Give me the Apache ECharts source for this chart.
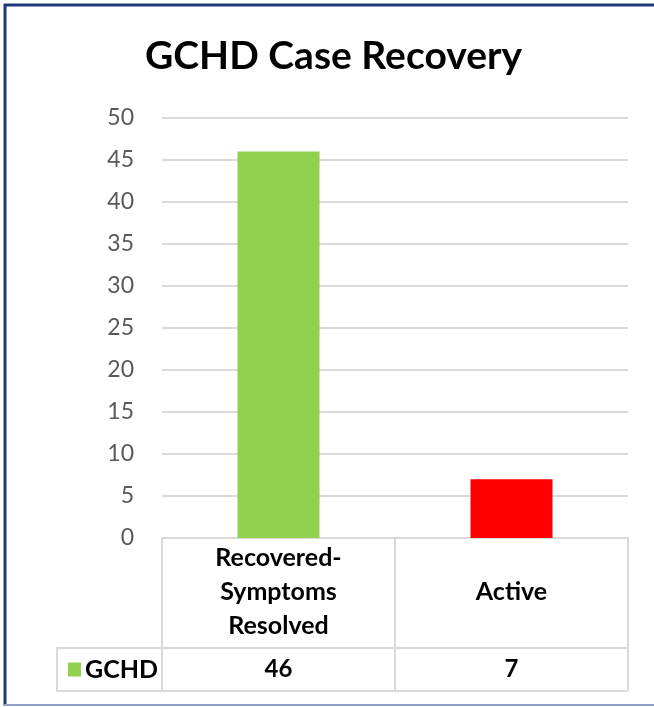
<!DOCTYPE html>
<html>
<head>
<meta charset="utf-8">
<script src="https://cdn.jsdelivr.net/npm/echarts@6/dist/echarts.min.js"></script>
<style>
    html, body { margin: 0; padding: 0; background: #fff; }
    #chart { width: 654px; height: 707px; }
</style>
</head>
<body>
<div id="chart"></div>
<script>
// data
const categories = ['Recovered-\nSymptoms\nResolved', 'Active']
const seriesName = 'GCHD'
const values = [46, 7]
const barColors = ['#92D050', '#FF0000']
const yTicks = { min: 0, max: 50, step: 5 }

const FONT = 'Lato'
const lineColor = '#D9D9D9'

const chart = echarts.init(document.getElementById('chart'))

const option = {
    backgroundColor: '#fff',
    animation: false,
    title: {
        text: 'GCHD Case Recovery',
        left: 140,
        top: 32,
        textStyle: {
            fontFamily: FONT,
            fontSize: 39,
            fontWeight: 'bold',
            color: '#000'
        }
    },
    legend: {
        data: [{ name: seriesName, itemStyle: { color: barColors[0] } }],
        left: 68,
        top: 657,
        padding: 0,
        icon: 'rect',
        itemWidth: 13,
        itemHeight: 14,
        selectedMode: false,
        textStyle: {
            fontFamily: FONT,
            fontSize: 25,
            fontWeight: 'bold',
            color: '#000',
            padding: [0, 0, 0, -1]
        }
    },
    grid: {
        left: 162,
        right: 26,
        top: 118,
        bottom: 169,
        containLabel: false
    },
    xAxis: [
        {
            type: 'category',
            data: categories,
            axisLine: { show: true, lineStyle: { color: lineColor, width: 2 } },
            axisTick: {
                show: true,
                alignWithLabel: false,
                length: 153,
                lineStyle: { color: lineColor, width: 2 }
            },
            axisLabel: {
                margin: 54,
                verticalAlign: 'middle',
                lineHeight: 34,
                fontFamily: FONT,
                fontSize: 25,
                fontWeight: 'bold',
                color: '#000'
            }
        },
        {
            type: 'category',
            data: categories,
            position: 'bottom',
            axisLine: { show: false },
            axisTick: { show: false },
            axisLabel: {
                margin: 131,
                verticalAlign: 'middle',
                fontFamily: FONT,
                fontSize: 24,
                fontWeight: 'bold',
                color: '#000',
                formatter: (v, i) => String(values[i])
            }
        }
    ],
    yAxis: {
        type: 'value',
        min: yTicks.min,
        max: yTicks.max,
        interval: yTicks.step,
        axisLine: { show: false },
        axisTick: { show: false },
        splitLine: { lineStyle: { color: lineColor, width: 2 } },
        axisLabel: {
            margin: 28,
            fontFamily: FONT,
            fontSize: 23,
            color: '#595959'
        }
    },
    series: [
        {
            name: seriesName,
            type: 'bar',
            barWidth: 82,
            data: values.map((v, i) => ({ value: v, itemStyle: { color: barColors[i] } })),
            itemStyle: { color: barColors[0] }
        }
    ],
    graphic: [
        // frame
        { type: 'line', shape: { x1: 5, y1: 4, x2: 5, y2: 706 }, style: { stroke: '#1F3A78', lineWidth: 3 } },
        { type: 'line', shape: { x1: 4, y1: 5, x2: 654, y2: 5 }, style: { stroke: '#1F3A78', lineWidth: 3 } },
        { type: 'line', shape: { x1: 4, y1: 705, x2: 654, y2: 705 }, style: { stroke: '#8EA1CB', lineWidth: 2 } },
        // data table rows
        { type: 'line', shape: { x1: 56, y1: 648, x2: 628, y2: 648 }, style: { stroke: lineColor, lineWidth: 2 } },
        { type: 'line', shape: { x1: 56, y1: 691, x2: 628, y2: 691 }, style: { stroke: lineColor, lineWidth: 2 } },
        { type: 'line', shape: { x1: 57, y1: 647, x2: 57, y2: 692 }, style: { stroke: lineColor, lineWidth: 2 } }
    ]
}

chart.setOption(option)
</script>
</body>
</html>
